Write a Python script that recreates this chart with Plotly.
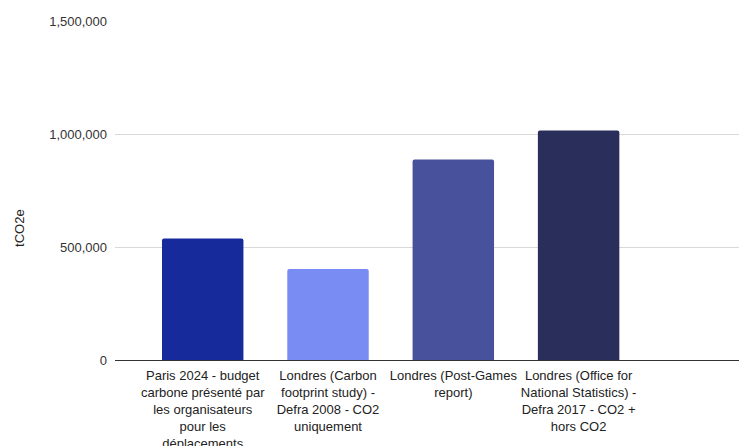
import plotly.graph_objects as go

categories = [
    "Paris 2024 - budget<br>carbone présenté par<br>les organisateurs<br>pour les<br>déplacements",
    "Londres (Carbon<br>footprint study) -<br>Defra 2008 - CO2<br>uniquement",
    "Londres (Post-Games<br>report)",
    "Londres (Office for<br>National Statistics) -<br>Defra 2017 - CO2 +<br>hors CO2",
]
values = [538000, 403000, 888000, 1016000]
colors = ["#172a9c", "#788cf4", "#48529c", "#2a2e5a"]
y_ticks = [0, 500000, 1000000, 1500000]
y_labels = ["0", "500,000", "1,000,000", "1,500,000"]

fig = go.Figure(
    go.Bar(
        x=list(range(len(categories))),
        y=values,
        marker=dict(color=colors, line=dict(width=0), cornerradius=2),
        width=0.65,
    )
)

fig.update_layout(
    width=739,
    height=446,
    margin=dict(l=115, r=0, t=21, b=86),
    paper_bgcolor="white",
    plot_bgcolor="white",
    font=dict(family="Arial, Liberation Sans, sans-serif", size=13, color="#222"),
    showlegend=False,
)
fig.update_xaxes(
    tickmode="array",
    tickvals=list(range(len(categories))),
    ticktext=categories,
    range=[-0.7, 4.28],
    showgrid=False,
    showline=False,
    zeroline=False,
    ticks="",
    tickangle=0,
    ticklabelstandoff=6,
    automargin=False,
    tickfont=dict(size=13, color="#222"),
)
fig.update_yaxes(
    tickmode="array",
    tickvals=y_ticks,
    ticktext=y_labels,
    range=[0, 1500000 * 1.0005],
    showgrid=True,
    gridcolor="#d9d9d9",
    gridwidth=1,
    zeroline=True,
    zerolinecolor="#333",
    zerolinewidth=1,
    ticks="",
    ticklabelstandoff=7,
    automargin=False,
    tickfont=dict(size=13, color="#333"),
)
fig.add_annotation(
    text="tCO2e",
    xref="paper", yref="paper",
    x=-0.152, y=0.39,
    xanchor="center", yanchor="middle",
    textangle=-90,
    showarrow=False,
    font=dict(size=13, color="#222"),
)

fig.write_html("out.html")
